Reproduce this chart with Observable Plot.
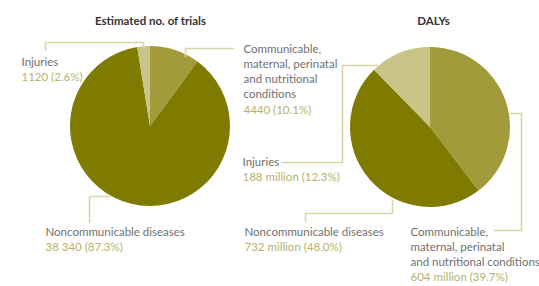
<!DOCTYPE html>
<html><head><meta charset="utf-8">
<script src="https://cdn.jsdelivr.net/npm/d3@7"></script>
<script src="https://cdn.jsdelivr.net/npm/@observablehq/plot@0.6"></script>
<style>body{margin:0;background:#fff;}</style>
</head><body><div id="chart"></div>
<script>
// ---- data ----
const categories = ["Communicable, maternal, perinatal and nutritional conditions", "Noncommunicable diseases", "Injuries"];
const titles = ["Estimated no. of trials", "DALYs"];
const trials = [4440, 38340, 1120];
const trialsPct = [10.1, 87.3, 2.6];
const dalys = [604, 732, 188]; // million
const dalysPct = [39.7, 48.0, 12.3];
const trialValueLabels = ["4440 (10.1%)", "38 340 (87.3%)", "1120 (2.6%)"];
const dalyValueLabels = ["604 million (39.7%)", "732 million (48.0%)", "188 million (12.3%)"];

// ---- styles / layout ----
const sliceColors = ["#a19b3b", "#7f7a00", "#c9c588"];
const nameColor = "#707070", valueColor = "#b7b26c", leaderColor = "#d9d6ab";
const W = 539, H = 286, R = 80, LH = 15;
const panels = [
  {title: titles[0], values: trials, valueLabels: trialValueLabels, cx: 150, cy: 126, tx: 150, ty: 24,
   labels: [
     {x: 243, y: 52, lines: ["Communicable,", "maternal, perinatal", "and nutritional", "conditions"], lh: 15.3},
     {x: 45, y: 235, lines: ["Noncommunicable diseases"]},
     {x: 21, y: 65, lines: ["Injuries"]}
   ],
   leaders: [
     [[233, 48], [185, 48], [185, 56]],
     [[89, 222], [89, 196], [111, 196]],
     [[45, 50], [45, 42], [143, 42], [143, 47]]
   ]},
  {title: titles[1], values: dalys, valueLabels: dalyValueLabels, cx: 430, cy: 127, tx: 433, ty: 24,
   labels: [
     {x: 410, y: 235, lines: ["Communicable,", "maternal, perinatal", "and nutritional conditions"]},
     {x: 244, y: 235, lines: ["Noncommunicable diseases"]},
     {x: 242, y: 165, lines: ["Injuries"]}
   ],
   leaders: [
     [[494, 230], [521, 230], [521, 113], [510, 113]],
     [[305, 221], [305, 213], [392, 213], [392, 200]],
     [[281, 162], [342, 162], [342, 65], [377, 65]]
   ]}
];

const FS = 11.5;
const rows = [];
const leaderRows = [];
panels.forEach((p, pi) => {
  p.labels.forEach((lab, ci) => {
    const lh = lab.lh || LH;
    const lines = [...lab.lines, p.valueLabels[ci]];
    lines.forEach((t, j) => rows.push({x: lab.x, y: lab.y + j * lh - FS * 0.32, text: t,
      kind: j === lines.length - 1 ? "value" : "name"}));
  });
  p.leaders.forEach((pts, li) => pts.forEach(([x, y]) => leaderRows.push({x, y, id: pi + "-" + li})));
});

const pieMark = (p) => (index, scales) => {
  const g = d3.create("svg:g");
  const cx = scales.x(p.cx), cy = scales.y(p.cy), r = scales.x(p.cx + R) - cx;
  const arcs = d3.pie().sort(null)(p.values);
  const arc = d3.arc().innerRadius(0).outerRadius(r);
  g.attr("transform", `translate(${cx},${cy})`)
    .selectAll("path").data(arcs).join("path")
    .attr("d", arc).attr("fill", (d, i) => sliceColors[i]);
  return g.node();
};

const chart = Plot.plot({
  width: W, height: H, margin: 0,
  x: {domain: [0, W], range: [0, W], axis: null},
  y: {domain: [0, H], range: [0, H], axis: null},
  style: {fontFamily: "Lato", background: "#fff"},
  marks: [
    ...panels.map(pieMark),
    Plot.line(leaderRows, {x: "x", y: "y", z: "id", stroke: leaderColor, strokeWidth: 1.6, curve: "linear"}),
    Plot.text(panels, {x: "tx", y: d => d.ty - 11 * 0.32, text: "title", fontSize: 11.5, fontWeight: "bold", fill: "#333"}),
    Plot.text(rows.filter(d => d.kind === "name"), {x: "x", y: "y", text: "text", textAnchor: "start", fontSize: FS, fill: nameColor}),
    Plot.text(rows.filter(d => d.kind === "value"), {x: "x", y: "y", text: "text", textAnchor: "start", fontSize: FS, fill: valueColor})
  ]
});
document.getElementById("chart").appendChild(chart);
</script>
</body></html>
